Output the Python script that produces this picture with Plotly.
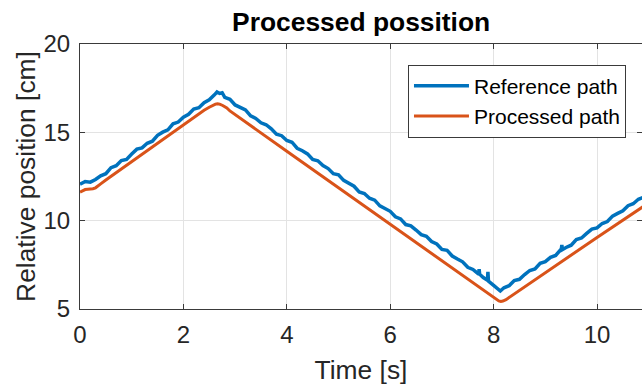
import plotly.graph_objects as go

# ---- data ----
ref_t = [0.0, 0.1, 0.2, 0.3, 0.4, 0.5, 0.6, 0.7, 0.8, 0.9,
         1.0, 1.1, 1.2, 1.3, 1.4, 1.5, 1.6, 1.7, 1.8, 1.9,
         2.0, 2.1, 2.2, 2.3, 2.4, 2.5, 2.6, 2.65, 2.7, 2.75, 2.8, 2.9,
         3.0, 3.1, 3.2, 3.3, 3.4, 3.5, 3.6, 3.7, 3.8, 3.9,
         4.0, 4.1, 4.2, 4.3, 4.4, 4.5, 4.6, 4.7, 4.8, 4.9,
         5.0, 5.1, 5.2, 5.3, 5.4, 5.5, 5.6, 5.7, 5.8, 5.9,
         6.0, 6.1, 6.2, 6.3, 6.4, 6.5, 6.6, 6.7, 6.8, 6.9,
         7.0, 7.1, 7.2, 7.3, 7.4, 7.5, 7.6, 7.7, 7.71, 7.72, 7.73, 7.8, 7.88, 7.89, 7.9,
         8.0, 8.1, 8.13, 8.2, 8.3, 8.4, 8.5, 8.6, 8.7, 8.8, 8.9,
         9.0, 9.1, 9.2, 9.3, 9.31, 9.32, 9.33, 9.4, 9.5, 9.6, 9.7, 9.8, 9.9,
         10.0, 10.1, 10.2, 10.3, 10.4, 10.5, 10.6, 10.7, 10.8, 10.9]
ref_y = [12.06, 12.22, 12.18, 12.33, 12.54, 12.66, 13.00, 13.11, 13.40, 13.47,
         13.77, 14.05, 14.12, 14.38, 14.50, 14.83, 15.01, 15.14, 15.48, 15.58,
         15.86, 16.02, 16.32, 16.39, 16.68, 16.84, 17.12, 17.28, 17.20, 17.24, 16.98, 16.87,
         16.55, 16.41, 16.27, 15.93, 15.79, 15.54, 15.43, 15.20, 14.90, 14.81,
         14.54, 14.44, 14.10, 13.96, 13.78, 13.46, 13.39, 13.12, 12.95, 12.66,
         12.60, 12.28, 12.13, 11.95, 11.63, 11.54, 11.27, 11.16, 10.84, 10.69,
         10.53, 10.22, 10.10, 9.78, 9.71, 9.47, 9.21, 9.12, 8.82, 8.68,
         8.37, 8.32, 8.00, 7.83, 7.67, 7.36, 7.24, 7.00, 6.99, 7.26, 6.97, 6.78, 6.63, 7.10, 6.58,
         6.34, 6.10, 6.02, 6.20, 6.32, 6.61, 6.68, 6.95, 7.18, 7.27, 7.59,
         7.68, 7.92, 8.03, 8.33, 8.40, 8.62, 8.36, 8.48, 8.61, 8.93, 9.02, 9.28, 9.52,
         9.59, 9.84, 9.95, 10.26, 10.41, 10.56, 10.85, 10.96, 11.21, 11.32]

proc_t = [0.0, 0.05, 0.1, 0.15, 0.2, 0.25, 0.3, 0.35, 0.4, 0.5,
          1.0, 1.5, 2.0, 2.4, 2.5, 2.56, 2.62, 2.66, 2.7, 2.76, 2.84, 2.9,
          3.0, 4.0, 5.0, 6.0, 7.0, 7.9, 8.0, 8.06, 8.1, 8.14, 8.18, 8.24, 8.3,
          8.4, 9.0, 10.0, 10.9]
proc_y = [11.62, 11.70, 11.76, 11.78, 11.79, 11.81, 11.86, 11.95, 12.08, 12.30,
          13.35, 14.39, 15.42, 16.25, 16.42, 16.53, 16.60, 16.62, 16.60, 16.52, 16.38, 16.21,
          16.00, 13.93, 11.86, 9.79, 7.72, 5.86, 5.65, 5.52, 5.46, 5.43, 5.45, 5.53, 5.65,
          5.88, 7.09, 9.05, 10.81]

x_ticks = [0, 2, 4, 6, 8, 10]
y_ticks = [5, 10, 15, 20]

BLUE = "#0072BD"
ORANGE = "#D95319"
FONT = "Liberation Sans, Arial, Helvetica, sans-serif"
AX = "#262626"

fig = go.Figure()
fig.add_trace(go.Scatter(x=ref_t, y=ref_y, mode="lines", name="Reference path",
                         line=dict(color=BLUE, width=3.5)))
fig.add_trace(go.Scatter(x=proc_t, y=proc_y, mode="lines", name="Processed path",
                         line=dict(color=ORANGE, width=3)))

axis_common = dict(
    showline=True, linecolor="#3a3a3a", linewidth=1, mirror="ticks",
    ticks="inside", ticklen=5, tickcolor="#3a3a3a", tickwidth=1,
    showgrid=True, gridcolor="#e3e3e3", gridwidth=1, zeroline=False,
    tickfont=dict(family=FONT, size=24, color=AX),
)

fig.update_xaxes(range=[0, 10.87], tickvals=x_ticks, ticklabelstandoff=4,
                 title=dict(text="Time [s]", font=dict(family=FONT, size=26.4, color=AX), standoff=13),
                 **axis_common)
fig.update_yaxes(range=[5, 20], tickvals=y_ticks, ticklabelstandoff=4,
                 title=dict(text="Relative position [cm]", font=dict(family=FONT, size=26.4, color=AX), standoff=0),
                 **axis_common)

fig.update_layout(
    width=642, height=387,
    margin=dict(l=80, r=0, t=44, b=78, autoexpand=False),
    paper_bgcolor="white", plot_bgcolor="white",
    title=dict(text="<b>Processed possition</b>", font=dict(family=FONT, size=26.4, color="black"),
               x=0.5625, xanchor="center", xref="container", y=0.943, yref="container", yanchor="middle"),
    legend=dict(x=0.9715, y=0.9225, xanchor="right", yanchor="top",
                bgcolor="white", bordercolor="#3a3a3a", borderwidth=1,
                font=dict(family=FONT, size=21, color="black"),
                itemwidth=55, tracegroupgap=0),
    showlegend=True,
)

fig.write_html("out.html")
